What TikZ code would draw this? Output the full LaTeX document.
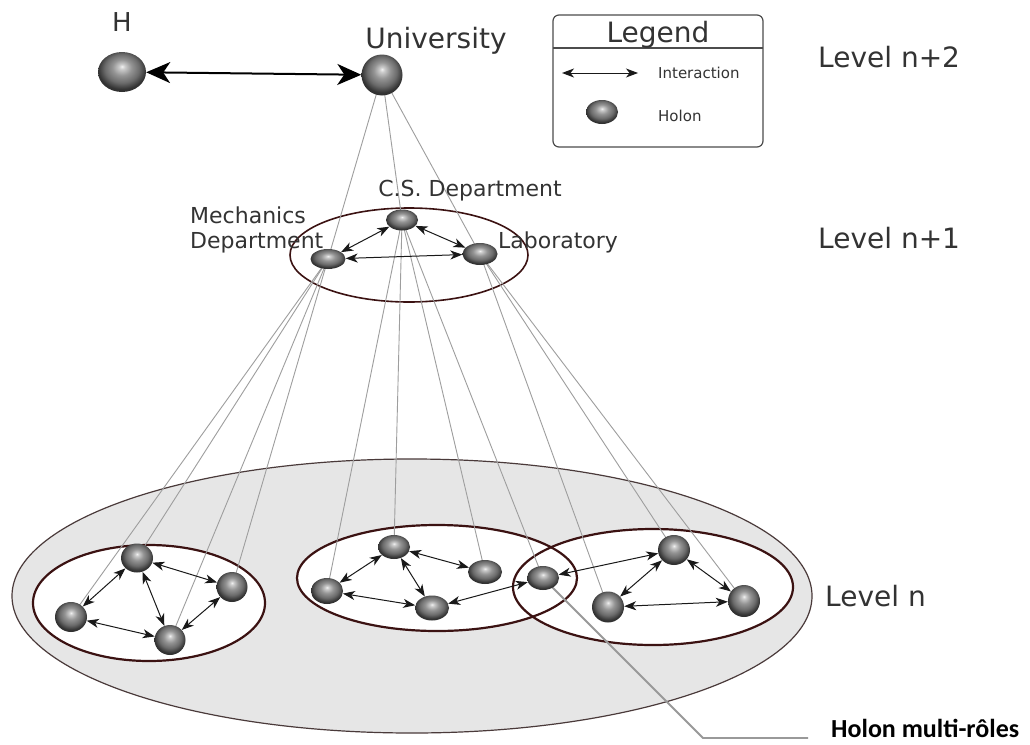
\documentclass[tikz,border=0pt]{standalone}
\usepackage{fontspec}
\setmainfont{DejaVu Sans}
\newfontfamily\carlito{Carlito}
\usetikzlibrary{shapes.geometric,arrows.meta}
\pgfdeclarelayer{bg}
\pgfdeclarelayer{links}
\pgfsetlayers{bg,links,main}
\pgfdeclareradialshading{holonshade}{\pgfpoint{0bp}{7bp}}{color(0bp)=(white!95!black); color(3bp)=(white!80!black); color(10bp)=(black!42); color(18bp)=(black!58); color(25bp)=(black!80); color(50bp)=(black!90)}
\definecolor{rim}{HTML}{3B1212}
\definecolor{bigrim}{HTML}{4A3A3A}
\definecolor{lvlfill}{HTML}{E6E6E6}
\definecolor{linkgray}{HTML}{9E9E9E}
\begin{document}
\begin{tikzpicture}[x=1pt,y=-1pt,
  holon/.style args={#1/#2}{ellipse, inner sep=0pt, shading=holonshade, minimum width=#1pt, minimum height=#2pt},
  inter/.style={{Stealth[length=12pt,width=9pt,inset=3.5pt]}-{Stealth[length=12pt,width=9pt,inset=3.5pt]}, line width=1pt, black!90},
  bigarrow/.style={{Stealth[length=24pt,width=21pt,inset=7pt]}-{Stealth[length=24pt,width=21pt,inset=7pt]}, line width=2pt, black},
  link/.style={linkgray, line width=0.9pt},
  leader/.style={black!40, line width=1.8pt},
  grp/.style={rim, line width=2.2pt},
  lbl/.style={font=\fontsize{22}{25}\selectfont, text=black!80, inner sep=0pt},
  biglbl/.style={font=\fontsize{28}{32}\selectfont, text=black!80, inner sep=0pt},
  smalllbl/.style={font=\fontsize{15}{17}\selectfont, text=black!80, inner sep=0pt}]
\useasboundingbox (0,0) rectangle (1030,744);

% ---------- background shapes ----------
\begin{pgfonlayer}{bg}
\fill[white] (0,0) rectangle (1030,744);
\draw[fill=lvlfill, draw=bigrim, line width=1.2pt] (412,596) ellipse [x radius=400, y radius=137];
\fill[white] (149,603) ellipse [x radius=116, y radius=58];
\fill[white] (437,578) ellipse [x radius=140, y radius=53];
\fill[white] (653,587) ellipse [x radius=140, y radius=58];
\draw[grp] (149,603) ellipse [x radius=116, y radius=58];
\draw[grp] (437,578) ellipse [x radius=140, y radius=53];
\draw[grp] (653,587) ellipse [x radius=140, y radius=58];
\draw[rim, line width=1.6pt] (409,255) ellipse [x radius=119, y radius=47];
\draw[rounded corners=6pt, line width=1.2pt, black!70] (553,15) rectangle (763,147);
\draw[line width=1.2pt, black!70] (553,48) -- (763,48);
\end{pgfonlayer}

% ---------- holons ----------
\node[holon=48/40] (H) at (122,72) {};
\node[holon=41/41] (U) at (382,75) {};

\node[holon=32/21] (CS) at (402,220) {};
\node[holon=35/20] (Mech) at (328,259) {};
\node[holon=35/22] (Lab) at (480,254) {};

\node[holon=32/29] (A) at (137,558) {};
\node[holon=31/30] (B) at (232,587) {};
\node[holon=32/30] (C) at (71,617) {};
\node[holon=31/30] (D) at (170,640) {};

\node[holon=32/24] (E) at (394,547) {};
\node[holon=34/24] (F) at (485,572) {};
\node[holon=32/26] (G) at (327,591) {};
\node[holon=34/25] (K) at (432,608) {};
\node[holon=32/24] (M) at (543,578) {};

\node[holon=32/30] (P) at (674,550) {};
\node[holon=32/31] (Q) at (608,607) {};
\node[holon=32/32] (R) at (744,601) {};

\node[holon=32/24] (LH) at (602,112) {};

% ---------- links (behind holons) ----------
\coordinate (lead1) at (703,738);
\coordinate (lead2) at (808,738);
\begin{pgfonlayer}{links}
\draw[link] (U.center) -- (Mech.center);
\draw[link] (U.center) -- (CS.center);
\draw[link] (U.center) -- (Lab.center);
\foreach \t in {A,B,C,D} \draw[link] (Mech.center) -- (\t.center);
\foreach \t in {G,E,F,M} \draw[link] (CS.center) -- (\t.center);
\foreach \t in {P,Q,R} \draw[link] (Lab.center) -- (\t.center);
\draw[leader] (M.center) -- (lead1) -- (lead2);
\end{pgfonlayer}

% ---------- interactions ----------
\draw[bigarrow] (H) -- (U);
\draw[inter] (CS) -- (Mech);
\draw[inter] (CS) -- (Lab);
\draw[inter] (Mech) -- (Lab);

\draw[inter] (A) -- (B);
\draw[inter] (A) -- (C);
\draw[inter] (A) -- (D);
\draw[inter] (C) -- (D);
\draw[inter] (B) -- (D);

\draw[inter] (E) -- (G);
\draw[inter] (E) -- (F);
\draw[inter] (E) -- (K);
\draw[inter] (G) -- (K);
\draw[inter] (K) -- (M);

\draw[inter] (M) -- (P);
\draw[inter] (P) -- (Q);
\draw[inter] (P) -- (R);
\draw[inter] (Q) -- (R);

\coordinate (la1) at (562,73);
\coordinate (la2) at (638,73);
\draw[inter] (la1) -- (la2);

% ---------- texts ----------
\node[font=\fontsize{26}{30}\selectfont, text=black!80, inner sep=0pt, anchor=base] (tH) at (122,31) {H};
\node[biglbl, anchor=base] (tU) at (436,48) {University};
\node[biglbl, anchor=base] (tLeg) at (658,42) {Legend};
\node[smalllbl, anchor=base west] (tI) at (658,78) {Interaction};
\node[smalllbl, anchor=base west] (tHo) at (658,121) {Holon};
\node[biglbl, anchor=base west] (tL2) at (818,67) {Level n+2};
\node[biglbl, anchor=base west] (tL1) at (818,248) {Level n+1};
\node[biglbl, anchor=base west] (tL0) at (825,606) {Level n};
\node[lbl, anchor=base] (tCS) at (470,196) {C.S. Department};
\node[lbl, anchor=base west] (tM1) at (190,223) {Mechanics};
\node[lbl, anchor=base west] (tM2) at (190,248) {Department};
\node[lbl, anchor=base] (tLab) at (558,248) {Laboratory};
\node[font=\carlito\bfseries\fontsize{26}{28}\selectfont, inner sep=0pt, anchor=base west] (tMR) at (831,737) {Holon multi-rôles};
\end{tikzpicture}
\end{document}
